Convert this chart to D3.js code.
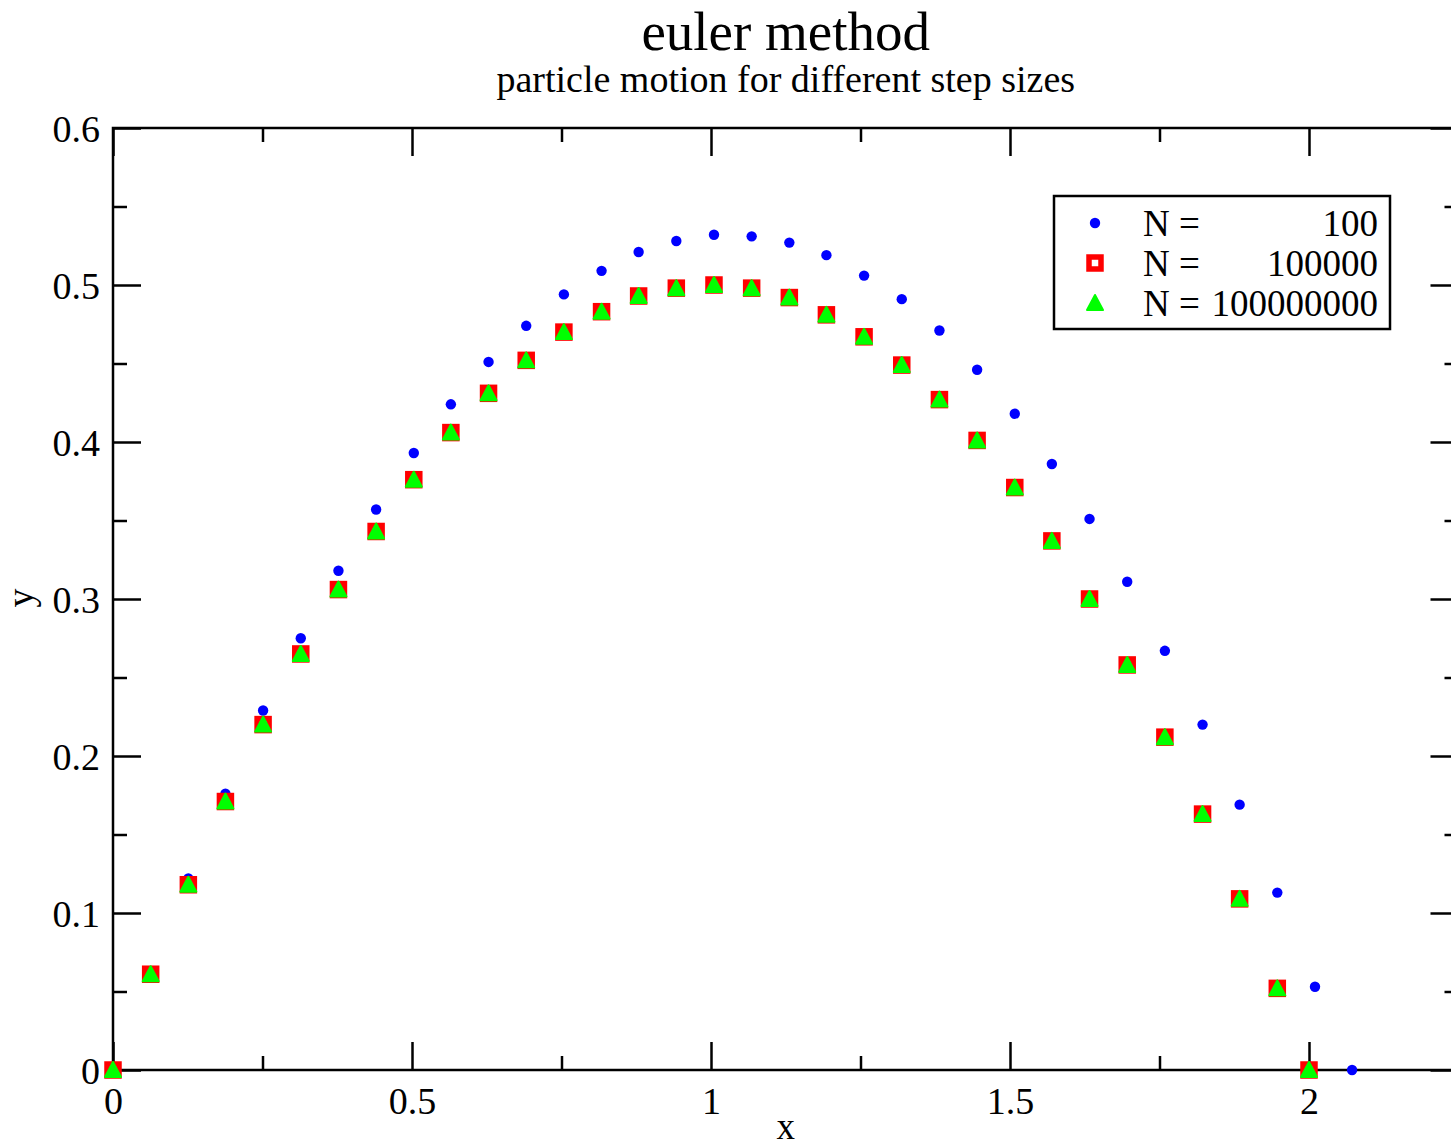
<!DOCTYPE html>
<html>
<head>
<meta charset="utf-8">
<script src="https://cdn.jsdelivr.net/npm/d3@7"></script>
<style>
  html, body { margin: 0; padding: 0; background: #fff; }
  svg { display: block; }
  text { font-family: "Liberation Serif", "Times New Roman", serif; fill: #000; }
</style>
</head>
<body>
<svg id="chart" width="1451" height="1148"></svg>
<script>
// ---- data ----
const xN100 = [0, 0.063, 0.126, 0.188, 0.251, 0.314, 0.377, 0.440, 0.503, 0.565, 0.628, 0.691, 0.754, 0.817, 0.879, 0.942, 1.005, 1.068, 1.131, 1.193, 1.256, 1.319, 1.382, 1.445, 1.508, 1.570, 1.633, 1.696, 1.759, 1.822, 1.884, 1.947, 2.010, 2.072];
const yN100 = [0, 0.063, 0.122, 0.176, 0.229, 0.275, 0.318, 0.357, 0.393, 0.424, 0.451, 0.474, 0.494, 0.509, 0.521, 0.528, 0.532, 0.531, 0.527, 0.519, 0.506, 0.491, 0.471, 0.446, 0.418, 0.386, 0.351, 0.311, 0.267, 0.220, 0.169, 0.113, 0.053, 0.0];

const xN1e5 = [0, 0.063, 0.126, 0.188, 0.251, 0.314, 0.377, 0.440, 0.503, 0.565, 0.628, 0.691, 0.754, 0.817, 0.879, 0.942, 1.005, 1.068, 1.131, 1.193, 1.256, 1.319, 1.382, 1.445, 1.508, 1.570, 1.633, 1.696, 1.759, 1.822, 1.884, 1.947, 2.000];
const yN1e5 = [0, 0.061, 0.118, 0.171, 0.220, 0.265, 0.306, 0.343, 0.376, 0.406, 0.431, 0.452, 0.470, 0.483, 0.493, 0.498, 0.500, 0.498, 0.492, 0.481, 0.467, 0.449, 0.427, 0.401, 0.371, 0.337, 0.300, 0.258, 0.212, 0.163, 0.109, 0.052, 0.0];

const xN1e8 = [0, 0.063, 0.126, 0.188, 0.251, 0.314, 0.377, 0.440, 0.503, 0.565, 0.628, 0.691, 0.754, 0.817, 0.879, 0.942, 1.005, 1.068, 1.131, 1.193, 1.256, 1.319, 1.382, 1.445, 1.508, 1.570, 1.633, 1.696, 1.759, 1.822, 1.884, 1.947, 2.000];
const yN1e8 = [0, 0.061, 0.118, 0.171, 0.220, 0.265, 0.306, 0.343, 0.376, 0.406, 0.431, 0.452, 0.470, 0.483, 0.493, 0.498, 0.500, 0.498, 0.492, 0.481, 0.467, 0.449, 0.427, 0.401, 0.371, 0.337, 0.300, 0.258, 0.212, 0.163, 0.109, 0.052, 0.0];

const seriesNames = ["N =", "N =", "N ="];
const seriesCounts = ["100", "100000", "100000000"];

const xMajorTicks = [0, 0.5, 1, 1.5, 2];
const xMajorLabels = ["0", "0.5", "1", "1.5", "2"];
const xMinorTicks = [0.25, 0.75, 1.25, 1.75, 2.25];
const yMajorTicks = [0, 0.1, 0.2, 0.3, 0.4, 0.5, 0.6];
const yMajorLabels = ["0", "0.1", "0.2", "0.3", "0.4", "0.5", "0.6"];
const yMinorTicks = [0.05, 0.15, 0.25, 0.35, 0.45, 0.55];

const titleText = "euler method";
const subtitleText = "particle motion for different step sizes";
const xLabel = "x";
const yLabel = "y";

// ---- layout ----
const svg = d3.select("#chart");
const L = 113, R = 1458.5, T = 128, B = 1070;
const x = d3.scaleLinear().domain([0, 2.25]).range([L, R]);
const y = d3.scaleLinear().domain([0, 0.6]).range([B, T]);

svg.append("rect").attr("width", 1451).attr("height", 1148).attr("fill", "#fff");

// titles
svg.append("text").attr("x", (L + R) / 2).attr("y", 50)
  .attr("text-anchor", "middle").style("font-size", "55px").text(titleText);
svg.append("text").attr("x", (L + R) / 2).attr("y", 92)
  .attr("text-anchor", "middle").style("font-size", "38px").text(subtitleText);

// axes
const MAJ = 28, MIN = 14;
function styleAxis(g) {
  g.select(".domain").remove();
  g.selectAll(".tick line").attr("stroke", "#000").attr("stroke-width", 2.5);
}
const fx = d => xMajorLabels[xMajorTicks.indexOf(d)];
const fy = d => yMajorLabels[yMajorTicks.indexOf(d)];

// bottom
svg.append("g").attr("transform", `translate(0,${B})`)
  .call(d3.axisBottom(x).tickValues(xMajorTicks).tickSize(-MAJ).tickPadding(17).tickFormat(fx))
  .call(styleAxis)
  .call(g => g.selectAll("text").style("font-size", "38px").style("font-family", "Liberation Serif, serif").attr("fill", "#000"));
svg.append("g").attr("transform", `translate(0,${B})`)
  .call(d3.axisBottom(x).tickValues(xMinorTicks).tickSize(-MIN).tickFormat(""))
  .call(styleAxis);
// top
svg.append("g").attr("transform", `translate(0,${T})`)
  .call(d3.axisTop(x).tickValues(xMajorTicks).tickSize(-MAJ).tickFormat(""))
  .call(styleAxis);
svg.append("g").attr("transform", `translate(0,${T})`)
  .call(d3.axisTop(x).tickValues(xMinorTicks).tickSize(-MIN).tickFormat(""))
  .call(styleAxis);
// left
svg.append("g").attr("transform", `translate(${L},0)`)
  .call(d3.axisLeft(y).tickValues(yMajorTicks).tickSize(-MAJ).tickPadding(13).tickFormat(fy))
  .call(styleAxis)
  .call(g => g.selectAll("text").style("font-size", "38px").style("font-family", "Liberation Serif, serif").attr("fill", "#000").attr("dy", "0.36em"));
svg.append("g").attr("transform", `translate(${L},0)`)
  .call(d3.axisLeft(y).tickValues(yMinorTicks).tickSize(-MIN).tickFormat(""))
  .call(styleAxis);
// right
svg.append("g").attr("transform", `translate(${R},0)`)
  .call(d3.axisRight(y).tickValues(yMajorTicks).tickSize(-MAJ).tickFormat(""))
  .call(styleAxis);
svg.append("g").attr("transform", `translate(${R},0)`)
  .call(d3.axisRight(y).tickValues(yMinorTicks).tickSize(-MIN).tickFormat(""))
  .call(styleAxis);

// frame
svg.append("rect").attr("x", L).attr("y", T).attr("width", R - L).attr("height", B - T)
  .attr("fill", "none").attr("stroke", "#000").attr("stroke-width", 2.5);

// axis labels
svg.append("text").attr("x", (L + R) / 2).attr("y", 1139)
  .attr("text-anchor", "middle").style("font-size", "37px").text(xLabel);
svg.append("text").attr("transform", "translate(33,598) rotate(-90)")
  .attr("text-anchor", "middle").style("font-size", "38px").text(yLabel);

// markers
const BLUE = "#0000ff", RED = "#ff0000", GREEN = "#00ff00";
const triPath = "M0,-8L8,7L-8,7Z";
function drawCircle(g, cx, cy) {
  g.append("circle").attr("cx", cx).attr("cy", cy).attr("r", 5.2).attr("fill", BLUE);
}
function drawSquare(g, cx, cy) {
  g.append("rect").attr("x", cx - 6).attr("y", cy - 6).attr("width", 12).attr("height", 12)
    .attr("fill", "#fff").attr("stroke", RED).attr("stroke-width", 5.5);
}
function drawTri(g, cx, cy) {
  g.append("path").attr("d", triPath).attr("transform", `translate(${cx},${cy})`)
    .attr("fill", GREEN).attr("stroke", GREEN).attr("stroke-width", 2).attr("stroke-linejoin", "round");
}

const gB = svg.append("g");
xN100.forEach((v, i) => drawCircle(gB, x(v), y(yN100[i])));
const gR = svg.append("g");
xN1e5.forEach((v, i) => drawSquare(gR, x(v), y(yN1e5[i])));
const gG = svg.append("g");
xN1e8.forEach((v, i) => drawTri(gG, x(v), y(yN1e8[i])));

// legend
const lg = svg.append("g");
lg.append("rect").attr("x", 1054).attr("y", 196).attr("width", 336).attr("height", 133)
  .attr("fill", "#fff").attr("stroke", "#000").attr("stroke-width", 2.5);
const rows = [223, 263, 303];
drawCircle(lg, 1095, rows[0]);
drawSquare(lg, 1095, rows[1]);
drawTri(lg, 1095, rows[2]);
rows.forEach((ry, i) => {
  lg.append("text").attr("x", 1143).attr("y", ry + 13).style("font-size", "37px").text(seriesNames[i]);
  lg.append("text").attr("x", 1378).attr("y", ry + 13).attr("text-anchor", "end").style("font-size", "37px").text(seriesCounts[i]);
});
</script>
</body>
</html>
